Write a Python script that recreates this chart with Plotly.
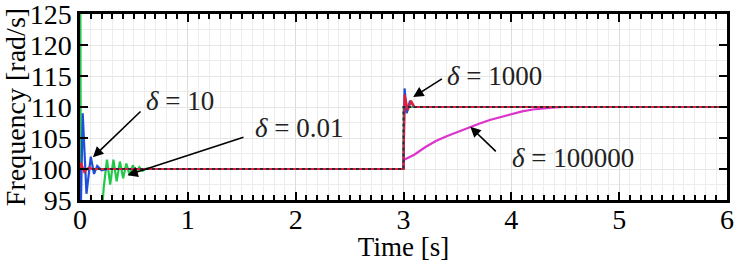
import plotly.graph_objects as go

# time / frequency samples (rad/s)
t_green = [0, 0.003, 0.008, 0.19, 0.22, 0.25, 0.28, 0.31, 0.34, 0.37, 0.40, 0.43, 0.46,
           0.49, 0.52, 0.55, 0.58, 0.62, 0.7, 3.0, 3.002, 3.1, 6.0]
f_green = [100, 130, 90, 90, 97, 101.5, 97.5, 101.5, 98, 101.2, 98.5, 100.9, 99,
           100.6, 99.4, 100.3, 99.7, 100.1, 100, 100, 110, 110, 110]

t_blue = [0, 0.008, 0.025, 0.06, 0.1, 0.13, 0.16, 0.2, 0.25, 3.0, 3.01, 3.03, 3.06, 3.1, 6.0]
f_blue = [100, 94, 109, 96, 102, 99.2, 100.5, 99.8, 100, 100, 113, 109, 111, 110, 110]

t_red = [0, 0.01, 0.04, 0.08, 0.12, 3.0, 3.01, 3.04, 3.07, 3.1, 6.0]
f_red = [100, 101, 99.5, 100.2, 100, 100, 112, 109.5, 111, 110, 110]

t_magenta = [0, 3.0, 3.005, 3.1, 3.2, 3.3, 3.4, 3.5, 3.6, 3.7, 3.8, 3.9, 4.0, 4.1,
             4.2, 4.3, 4.4, 4.5, 6.0]
f_magenta = [100, 100, 101.5, 102.3, 103.5, 104.5, 105.3, 106.0, 106.7, 107.3, 107.9,
             108.4, 108.9, 109.3, 109.6, 109.8, 109.95, 110, 110]

t_ref = [0, 3.0, 3.0001, 6.0]
f_ref = [100, 100, 110, 110]

SERIF = 'Liberation Serif, Times New Roman, serif'

fig = go.Figure()
fig.add_trace(go.Scatter(x=t_green, y=f_green, mode='lines', line=dict(color='#22c84a', width=2.2)))
fig.add_trace(go.Scatter(x=t_blue, y=f_blue, mode='lines', line=dict(color='#1f4fd8', width=2.2)))
fig.add_trace(go.Scatter(x=t_magenta, y=f_magenta, mode='lines', line=dict(color='#dd33cc', width=2.2)))
fig.add_trace(go.Scatter(x=t_red, y=f_red, mode='lines', line=dict(color='#e0203a', width=2.2)))
fig.add_trace(go.Scatter(x=t_ref, y=f_ref, mode='lines',
                         line=dict(color='#2a2a3a', width=2, dash='dot')))

# (label, arrow tip, arrow tail, text centre)
labels = [
    ("<i>δ</i> = 10", (0.12, 101.9), (0.575, 109.5), (0.93, 111.0)),
    ("<i>δ</i> = 0.01", (0.44, 99.0), (1.53, 105.2), (2.04, 106.6)),
    ("<i>δ</i> = 1000", (3.09, 111.6), (3.37, 114.7), (3.84, 115.0)),
    ("<i>δ</i> = 100000", (3.62, 106.8), (3.87, 102.6), (4.57, 101.8)),
]
for text, tip, tail, pos in labels:
    fig.add_annotation(x=tip[0], y=tip[1], ax=tail[0], ay=tail[1], axref='x', ayref='y',
                       text='', showarrow=True, arrowhead=2, arrowsize=1.3,
                       arrowwidth=1.6, arrowcolor='black')
    fig.add_annotation(x=pos[0], y=pos[1], text=text, showarrow=False,
                       font=dict(family=SERIF, size=27, color='#222'))

axis_common = dict(showline=True, linecolor='black', linewidth=2.5, mirror='allticks',
                   ticks='inside', tickcolor='black', tickwidth=1.5, ticklen=8,
                   zeroline=False, automargin=False, ticklabeloverflow='allow',
                   tickfont=dict(family=SERIF, size=28, color='black'))
fig.update_xaxes(range=[0, 6], dtick=1, showgrid=True, gridcolor='#dcdcdc', gridwidth=1,
                 ticklabelstandoff=-7,
                 minor=dict(dtick=0.1, ticks='inside', ticklen=5, tickcolor='black',
                            showgrid=True, gridcolor='#ececec'),
                 title=dict(text='Time [s]', standoff=0,
                            font=dict(family=SERIF, size=27, color='black')),
                 **axis_common)
fig.update_yaxes(range=[95, 125], dtick=5, showgrid=True, gridcolor='#e6e6e6',
                 minor=dict(dtick=2.5, ticks='', showgrid=True, gridcolor='#ececec'),
                 title=dict(text='Frequency [rad/s]', standoff=2,
                            font=dict(family=SERIF, size=28, color='black')),
                 **axis_common)
fig.update_layout(width=747, height=262, showlegend=False,
                  margin=dict(l=80, r=20, t=14, b=62),
                  plot_bgcolor='white', paper_bgcolor='white',
                  font=dict(family=SERIF))
fig.write_html("out.html", config={'displayModeBar': False},
               post_script="document.body.style.margin='0';")
